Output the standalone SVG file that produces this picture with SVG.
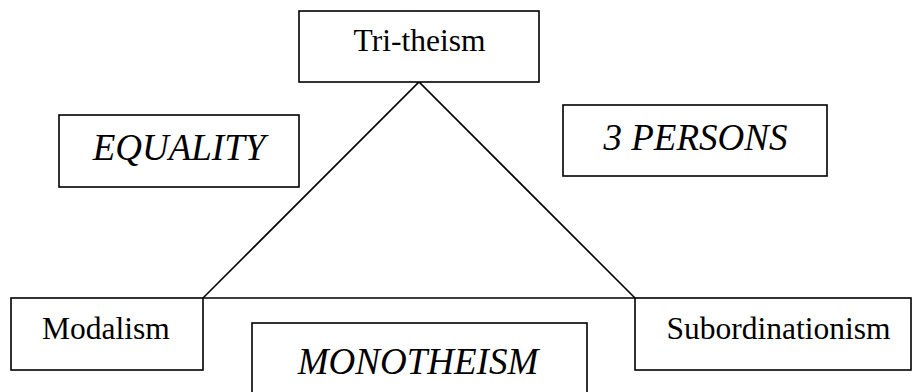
<svg xmlns="http://www.w3.org/2000/svg" width="914" height="392" viewBox="0 0 914 392">
<style>
.box{fill:#fff;stroke:#000;stroke-width:1.6}
.lbl{font-family:"Liberation Serif","Times New Roman",serif;font-size:31.5px;fill:#000}
.it{font-family:"Liberation Serif","Times New Roman",serif;font-size:37px;font-style:italic;fill:#000}
.conn{stroke:#000;stroke-width:1.6;fill:none}
</style>
<rect width="914" height="392" fill="#fff"/>
<g id="connectors">
<polyline class="conn" points="203,298 419,82 635,298"/>
<line class="conn" x1="203" y1="298" x2="635" y2="298"/>
</g>
<g id="tritheism">
<rect class="box" x="299" y="11" width="240" height="71"/>
<text class="lbl" x="419.5" y="51" text-anchor="middle">Tri-theism</text>
</g>
<g id="equality">
<rect class="box" x="59" y="115" width="240" height="72"/>
<text class="it" x="179" y="160" text-anchor="middle">EQUALITY</text>
</g>
<g id="persons">
<rect class="box" x="563" y="105" width="264" height="71"/>
<text class="it" x="695.5" y="150" text-anchor="middle">3 PERSONS</text>
</g>
<g id="modalism">
<rect class="box" x="11" y="298" width="192" height="72"/>
<text class="lbl" x="106" y="339" text-anchor="middle">Modalism</text>
</g>
<g id="monotheism">
<rect class="box" x="252" y="323" width="335" height="80"/>
<text class="it" x="418" y="374" text-anchor="middle">MONOTHEISM</text>
</g>
<g id="subordinationism">
<rect class="box" x="635" y="298" width="276" height="72"/>
<text class="lbl" x="778.5" y="339" text-anchor="middle">Subordinationism</text>
</g>
</svg>
